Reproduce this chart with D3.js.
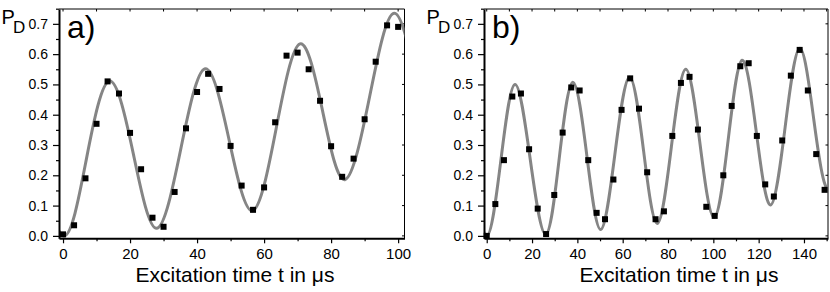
<!DOCTYPE html>
<html>
<head>
<meta charset="utf-8">
<script src="https://cdn.jsdelivr.net/npm/d3@7"></script>
<style>
  body { margin: 0; background: #fff; }
  svg { display: block; font-family: "Liberation Sans", Arial, Helvetica, sans-serif; }
</style>
</head>
<body>
<script>
// panel a) measured points
const tA = [0, 3.3, 6.7, 10, 13.3, 16.7, 20, 23.3, 26.7, 30, 33.3, 36.7, 40, 43.3, 46.7, 50,
  53.3, 56.7, 60, 63.3, 66.7, 70, 73.3, 76.7, 80, 83.3, 86.7, 90, 93.3, 96.7, 100];
const pA = [0.005, 0.035, 0.19, 0.37, 0.51, 0.47, 0.34, 0.22, 0.06, 0.03, 0.145, 0.355, 0.475, 0.535, 0.485, 0.297,
  0.166, 0.086, 0.16, 0.375, 0.595, 0.605, 0.55, 0.446, 0.296, 0.195, 0.255, 0.385, 0.575, 0.695, 0.69];
// panel a) fit curve (first/last knots lie outside the frame and are clipped)
const fitTA = [-7.0, 0.3, 7.0, 13.9, 21.0, 28.0, 35.2, 42.4, 49.5, 56.6, 63.7, 70.7, 77.5, 84.2, 91.5, 98.8, 106.0];
const fitPA = [0.26, 0.0, 0.255, 0.511, 0.27, 0.025, 0.29, 0.552, 0.32, 0.083, 0.36, 0.634, 0.41, 0.186, 0.46, 0.735, 0.47];

// panel b) measured points
const tB = [0, 3.8, 7.6, 11.3, 15.1, 18.7, 22.5, 26.2, 29.8, 33.5, 37.3, 41, 44.8, 48.5, 52.2, 55.9,
  59.5, 63.3, 67.2, 70.8, 74.5, 78.2, 81.9, 85.7, 89.5, 93.2, 96.9, 100.6, 104.4, 108.1, 111.9, 115.6,
  119.2, 122.9, 126.7, 130.4, 134.2, 138.1, 141.7, 145.4, 149.1];
const pB = [0, 0.105, 0.25, 0.46, 0.47, 0.286, 0.09, 0.006, 0.135, 0.341, 0.49, 0.48, 0.25, 0.076, 0.055, 0.186,
  0.416, 0.52, 0.42, 0.21, 0.055, 0.081, 0.33, 0.505, 0.525, 0.351, 0.096, 0.066, 0.2, 0.429, 0.56, 0.57,
  0.33, 0.17, 0.13, 0.315, 0.529, 0.614, 0.48, 0.27, 0.152];
// panel b) fit curve
const fitTB = [-6.25, 0, 6.25, 12.5, 19.2, 26.0, 32.0, 38.0, 44.2, 50.3, 56.6, 63.0, 69.2, 75.3, 81.5, 87.8,
  94.1, 100.4, 106.6, 112.7, 119.0, 125.3, 131.7, 138.1, 144.4, 150.8, 157.0];
const fitPB = [0.25, 0, 0.25, 0.5, 0.253, 0.005, 0.256, 0.507, 0.264, 0.021, 0.272, 0.524, 0.282, 0.041, 0.295, 0.55,
  0.305, 0.061, 0.32, 0.58, 0.341, 0.102, 0.36, 0.619, 0.38, 0.155, 0.41];

const yTicks = [0, 0.1, 0.2, 0.3, 0.4, 0.5, 0.6, 0.7];
const yMinor = [0.05, 0.15, 0.25, 0.35, 0.45, 0.55, 0.65, 0.75];
const xTicksA = [0, 20, 40, 60, 80, 100];
const xMinorA = [10, 30, 50, 70, 90];
const xTicksB = [0, 20, 40, 60, 80, 100, 120, 140];
const xMinorB = [10, 30, 50, 70, 90, 110, 130, 150];

const svg = d3.select("body").append("svg")
  .attr("width", 830)
  .attr("height", 292);

const y = d3.scaleLinear().domain([-0.008, 0.749]).range([238.3, 9]);

function panel(id, xDomain, xRange, ticks, minor, ts, ps, fts, fps, tag, titleX) {
  const x = d3.scaleLinear().domain(xDomain).range(xRange);
  const [x0, x1] = xRange;
  const g = svg.append("g");

  g.append("clipPath").attr("id", "clip" + id)
    .append("rect")
    .attr("x", x0).attr("y", y.range()[1])
    .attr("width", x1 - x0).attr("height", y.range()[0] - y.range()[1]);

  // top and right frame, thin
  g.append("path")
    .attr("d", `M${x0},${y.range()[1]}H${x1}V${y.range()[0]}`)
    .attr("fill", "none").attr("stroke", "#000").attr("stroke-width", 1);

  // small inward ticks on top and right
  g.selectAll(".tt").data(ticks.concat(minor).filter(d => d <= xDomain[1]))
    .join("line")
    .attr("x1", d => x(d)).attr("x2", d => x(d))
    .attr("y1", y.range()[1]).attr("y2", y.range()[1] + 2.5)
    .attr("stroke", "#000");
  g.selectAll(".rt").data(yTicks)
    .join("line")
    .attr("x1", x1).attr("x2", x1 - 2.5)
    .attr("y1", d => y(d)).attr("y2", d => y(d))
    .attr("stroke", "#000");

  // fit curve
  const line = d3.line()
    .x(d => x(d[0]))
    .y(d => y(d[1]))
    .curve(d3.curveNatural);
  g.append("path")
    .datum(d3.zip(fts, fps))
    .attr("clip-path", `url(#clip${id})`)
    .attr("d", line)
    .attr("fill", "none")
    .attr("stroke", "#858585")
    .attr("stroke-width", 3);

  // data points
  g.selectAll(".pt").data(d3.zip(ts, ps))
    .join("rect")
    .attr("x", d => x(d[0]) - 3)
    .attr("y", d => y(d[1]) - 3)
    .attr("width", 6).attr("height", 6)
    .attr("fill", "#000");

  // bottom axis
  const xAxis = g.append("g")
    .attr("transform", `translate(0,${y.range()[0]})`)
    .call(d3.axisBottom(x).tickValues(ticks).tickSize(5).tickPadding(5).tickSizeOuter(0));
  g.append("g")
    .attr("transform", `translate(0,${y.range()[0]})`)
    .call(d3.axisBottom(x).tickValues(minor.filter(d => d <= xDomain[1])).tickSize(3).tickFormat("").tickSizeOuter(0))
    .select(".domain").remove();
  xAxis.selectAll("text").attr("font-size", 15).attr("font-family", null).attr("fill", "#000");

  // left axis
  const yAxis = g.append("g")
    .attr("transform", `translate(${x0},0)`)
    .call(d3.axisLeft(y).tickValues(yTicks).tickFormat(d3.format(".1f")).tickSize(6).tickPadding(5).tickSizeOuter(0));
  g.append("g")
    .attr("transform", `translate(${x0},0)`)
    .call(d3.axisLeft(y).tickValues(yMinor).tickSize(3).tickFormat("").tickSizeOuter(0))
    .select(".domain").remove();
  yAxis.selectAll("text").attr("font-size", 14).attr("font-family", null).attr("fill", "#000");

  g.selectAll(".domain").attr("stroke-width", 2);
  g.selectAll(".tick line").attr("stroke-width", 1.2);

  // labels
  g.append("text").attr("x", x0 - 57.5).attr("y", 24).attr("font-size", 20).text("P");
  g.append("text").attr("x", x0 - 46).attr("y", 33).attr("font-size", 17).text("D");

  g.append("text")
    .attr("x", x0 + 8).attr("y", 38)
    .attr("font-size", 32)
    .text(tag);

  g.append("text")
    .attr("x", titleX).attr("y", 281.5)
    .attr("text-anchor", "middle")
    .attr("font-size", 21)
    .text("Excitation time t in μs");
}

panel("a", [-1.2, 101.9], [59, 404.5], xTicksA, xMinorA, tA, pA, fitTA, fitPA, "a)", 235);
panel("b", [-1.2, 150.6], [484, 828], xTicksB, xMinorB, tB, pB, fitTB, fitPB, "b)", 679);
</script>
</body>
</html>
